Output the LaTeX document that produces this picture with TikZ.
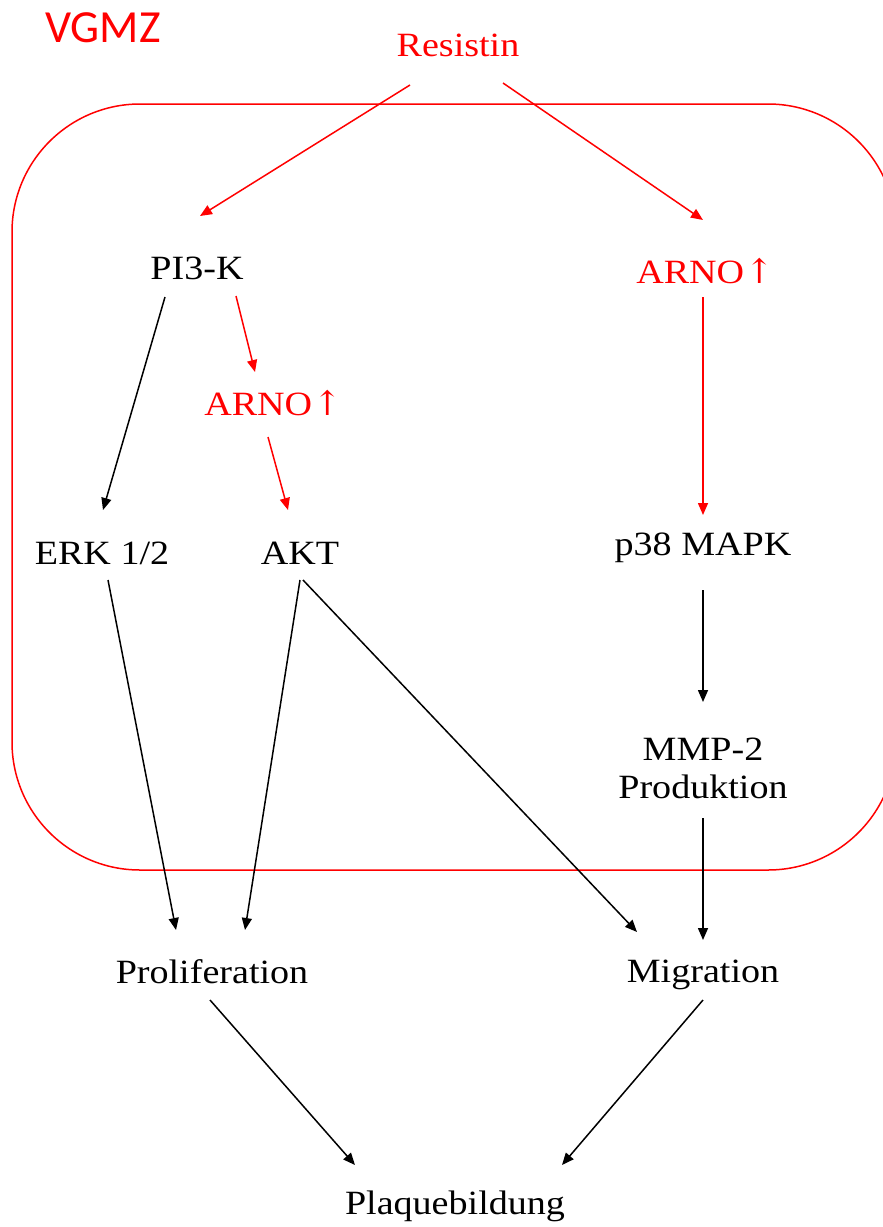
\documentclass[tikz,border=0pt]{standalone}
\usepackage{fontspec}
\setmainfont[FakeStretch=1.12]{Liberation Serif}
\newfontfamily\labelsans{Carlito}
\newfontfamily\arrowfont{DejaVu Serif}
\usetikzlibrary{arrows.meta}
\definecolor{sigred}{RGB}{255,0,0}
\tikzset{
  lbl/.style={font=\fontsize{34}{40}\selectfont, inner sep=0pt, align=center},
  redlbl/.style={lbl, text=sigred},
  arr/.style={line width=1.5pt, -{Triangle[length=12pt,width=10pt]}},
  redarr/.style={arr, draw=sigred},
  cellwall/.style={draw=sigred, line width=1.5pt, rounded corners=128pt}
}
\newcommand{\up}{{\arrowfont\fontsize{34}{40}\selectfont\kern1pt↑}}
\begin{document}
\begin{tikzpicture}[x=1pt,y=-1pt]
\useasboundingbox (0,0) rectangle (883,1227);
% cell outline, cut off at the right edge
\begin{scope}
\clip (0,0) rectangle (883,1227);
\draw[cellwall] (12,104) rectangle (896,870);
\end{scope}

\node[text=sigred, font=\labelsans\fontsize{46}{50}\selectfont, inner sep=0pt] (vgmz) at (103,28) {VGMZ};

\node[redlbl] (res)   at (458,45)  {Resistin};
\node[lbl]    (pik)   at (197,268) {PI3-K};
\node[redlbl] (arnoR) at (705,271) {ARNO\up};
\node[redlbl] (arnoM) at (273,403) {ARNO\up};
\node[lbl]    (erk)   at (102,553) {ERK 1/2};
\node[lbl]    (akt)   at (300,553) {AKT};
\node[lbl]    (p38)   at (703,548) {p38 MAPK};
\node[lbl]    (mmp)   at (703,768) {MMP-2\\[-2pt]Produktion};
\node[lbl]    (prol)  at (212,972) {Proliferation};
\node[lbl]    (migr)  at (703,975) {Migration};
\node[lbl]    (plaq)  at (455,1206) {Plaquebildung};

% red signalling branch
\draw[redarr] ([shift={(-48,40)}]res.center) -- ([shift={(3,-52)}]pik.center);
\draw[redarr] ([shift={(45,38)}]res.center) -- ([shift={(-2,-51)}]arnoR.center);
\draw[redarr] ([shift={(39,28)}]pik.center) -- ([shift={(-18,-31)}]arnoM.center);
\draw[redarr] ([shift={(-5,34)}]arnoM.center) -- ([shift={(-12,-43)}]akt.center);
\draw[redarr] ([shift={(-2,26)}]arnoR.center) -- ([shift={(0,-33)}]p38.center);

% black signalling branch
\draw[arr] ([shift={(-32,29)}]pik.center) -- ([shift={(1,-43)}]erk.center);
\draw[arr] ([shift={(6,27)}]erk.center) -- ([shift={(-36,-42)}]prol.center);
\draw[arr] ([shift={(0,27)}]akt.center) -- ([shift={(33,-42)}]prol.center);
\draw[arr] ([shift={(3,27)}]akt.center) -- ([shift={(-66,-43)}]migr.center);
\draw[arr] ([shift={(0,42)}]p38.center) -- ([shift={(0,-66)}]mmp.center);
\draw[arr] ([shift={(0,50)}]mmp.center) -- ([shift={(0,-35)}]migr.center);
\draw[arr] ([shift={(-2,28)}]prol.center) -- ([shift={(-100,-41)}]plaq.center);
\draw[arr] ([shift={(0,25)}]migr.center) -- ([shift={(107,-41)}]plaq.center);
\end{tikzpicture}
\end{document}
